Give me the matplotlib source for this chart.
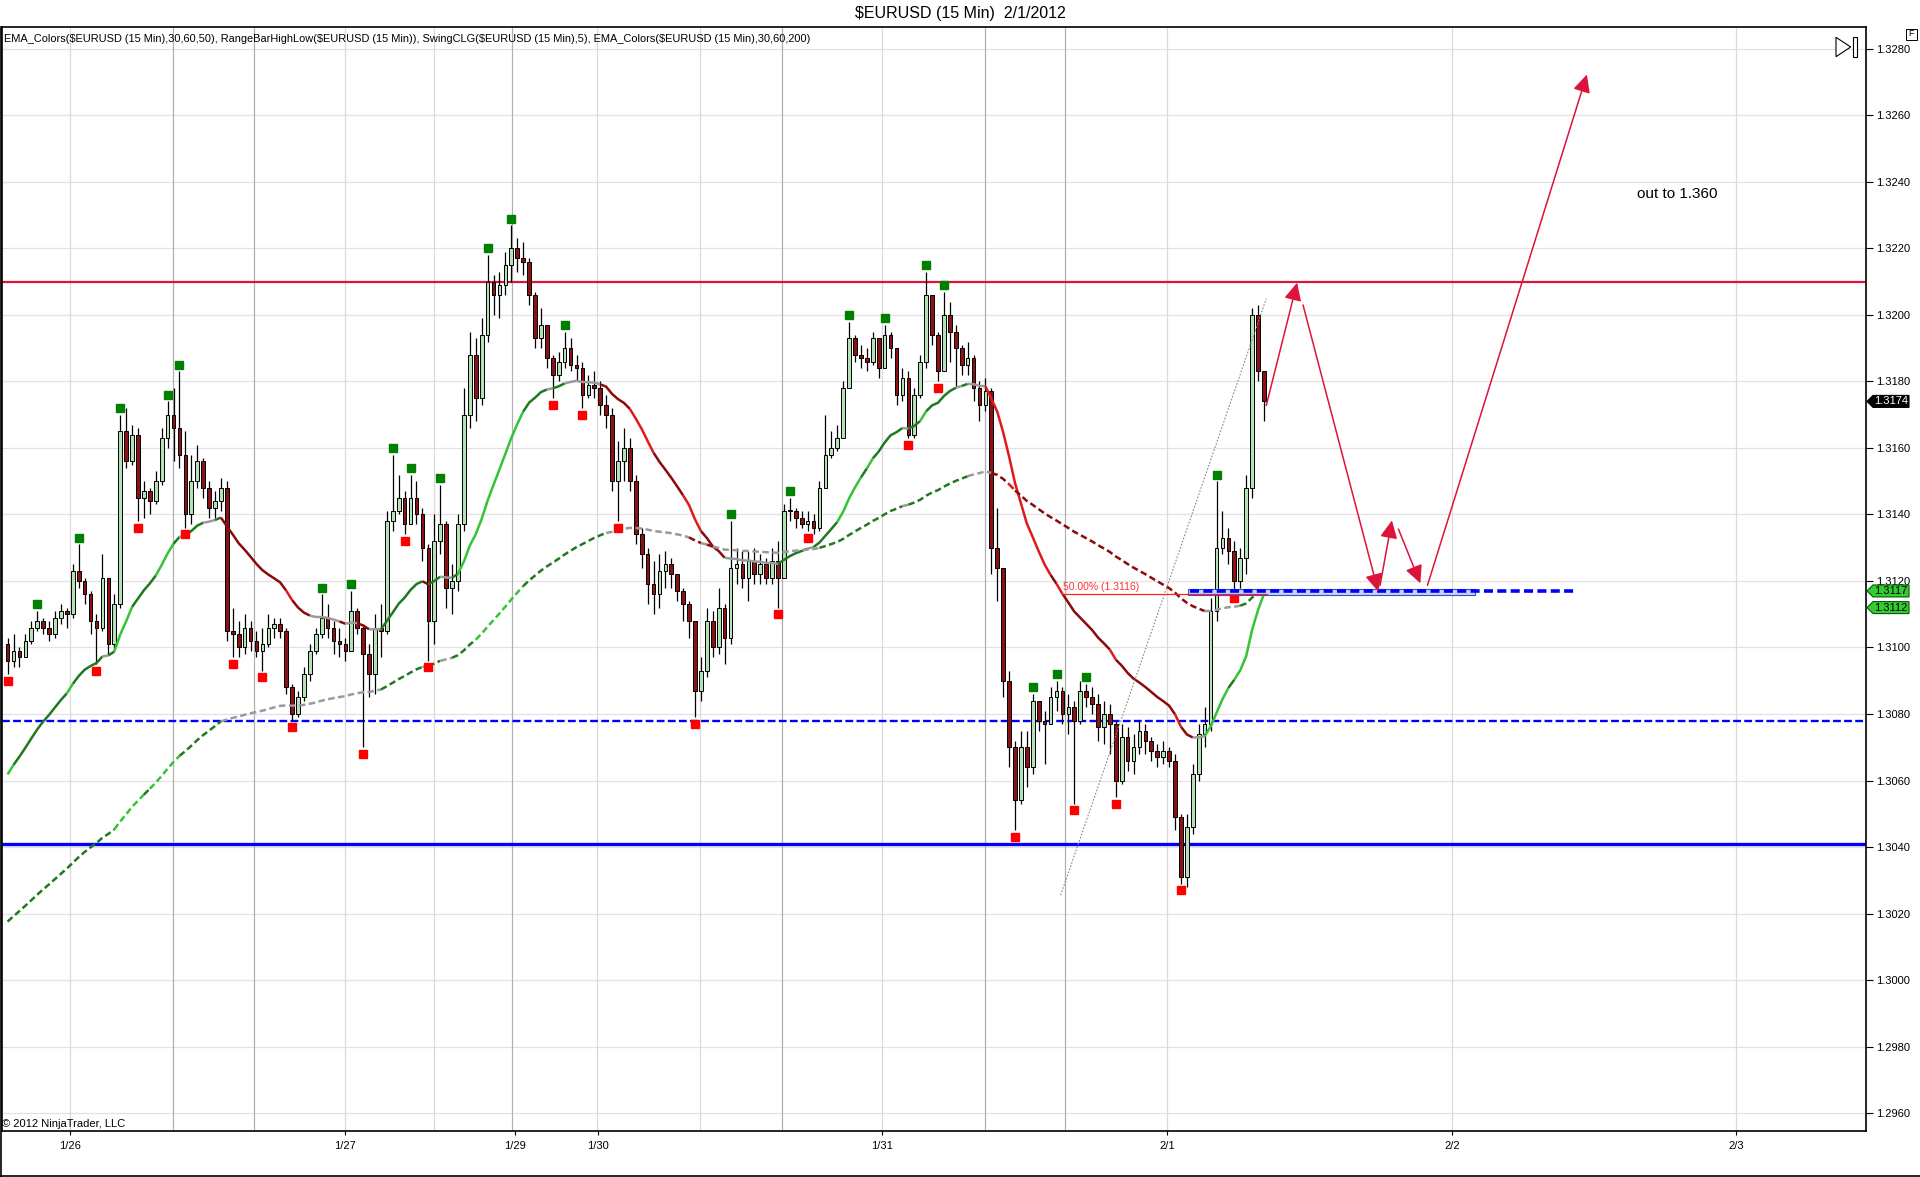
import numpy as np
import matplotlib
matplotlib.use("Agg")
import matplotlib.pyplot as plt
from matplotlib.patches import Rectangle, Polygon
from matplotlib.lines import Line2D

plt.rcParams['font.family'] = ['Liberation Sans', 'DejaVu Sans']

# prices are stored as pips above 1.3000 (one bar = 30 minutes here)
BASE = 1.3000
first_open = 101
close_pips = [
    96, 99, 97, 102, 106, 108, 106, 104, 109, 111,
    110, 123, 120, 116, 108, 106, 121, 101, 113, 165,
    156, 164, 145, 147, 144, 150, 163, 170, 166, 158,
    140, 150, 156, 148, 142, 144, 148, 105, 104, 100,
    106, 102, 99, 101, 106, 107, 105, 88, 80, 85,
    92, 99, 104, 109, 106, 102, 101, 99, 111, 106,
    98, 92, 106, 105, 138, 141, 145, 137, 145, 140,
    130, 108, 132, 137, 118, 120, 137, 170, 188, 175,
    194, 210, 206, 209, 215, 220, 217, 216, 206, 193,
    197, 187, 182, 186, 190, 185, 184, 176, 179, 178,
    173, 170, 150, 156, 160, 150, 134, 128, 119, 116,
    123, 125, 122, 117, 113, 108, 87, 93, 108, 100,
    112, 103, 124, 125, 121, 126, 122, 125, 121, 126,
    121, 141, 141, 139, 137, 138, 136, 148, 158, 160,
    163, 178, 193, 188, 187, 186, 193, 184, 194, 190,
    176, 181, 164, 176, 186, 206, 194, 183, 200, 195,
    190, 185, 187, 178, 173, 177, 130, 124, 90, 70,
    54, 70, 64, 84, 78, 77, 85, 87, 80, 82,
    78, 87, 85, 83, 76, 80, 77, 60, 73, 66,
    70, 75, 72, 69, 67, 69, 66, 49, 31, 46,
    62, 74, 77, 111, 130, 133, 129, 120, 127, 148,
    200, 183, 174,
]
high_pips = [
    103, 104, 100, 104, 108, 111, 109, 108, 111, 113,
    112, 125, 131, 121, 117, 110, 128, 121, 116, 170,
    172, 167, 166, 150, 148, 153, 166, 174, 178, 183,
    165, 158, 161, 157, 150, 147, 151, 150, 112, 108,
    110, 108, 105, 106, 110, 109, 109, 106, 89, 87,
    94, 101, 106, 116, 113, 108, 106, 103, 117, 112,
    107, 101, 110, 113, 141, 158, 152, 147, 152, 150,
    142, 131, 140, 149, 138, 125, 140, 178, 195, 193,
    199, 218, 212, 213, 219, 227, 223, 222, 217, 207,
    202, 197, 188, 189, 195, 193, 188, 186, 182, 183,
    180, 176, 172, 162, 166, 163, 152, 136, 130, 126,
    128, 129, 127, 121, 118, 114, 108, 97, 112, 111,
    118, 113, 138, 130, 129, 129, 130, 128, 127, 130,
    132, 143, 145, 142, 141, 141, 140, 150, 170, 165,
    167, 180, 198, 194, 191, 190, 195, 193, 197, 195,
    190, 184, 183, 178, 188, 213, 205, 195, 207, 204,
    197, 191, 192, 188, 180, 181, 178, 142, 124, 93,
    72, 75, 75, 86, 84, 81, 88, 90, 88, 86,
    84, 90, 89, 88, 86, 84, 83, 78, 77, 76,
    74, 78, 77, 73, 71, 72, 70, 68, 50, 50,
    65, 77, 82, 115, 150, 141, 136, 132, 130, 152,
    202, 203, 183,
]
low_pips = [
    92, 94, 94, 97, 101, 105, 104, 102, 103, 107,
    106, 109, 118, 113, 104, 95, 105, 98, 99, 112,
    154, 155, 138, 139, 140, 143, 149, 160, 156, 154,
    136, 137, 148, 145, 139, 139, 141, 102, 97, 97,
    98, 99, 97, 93, 100, 103, 103, 86, 78, 79,
    84, 90, 98, 103, 103, 98, 97, 96, 99, 104,
    70, 85, 86, 97, 104, 135, 140, 134, 137, 137,
    126, 96, 101, 128, 112, 110, 117, 135, 166, 168,
    173, 192, 200, 199, 206, 210, 213, 212, 203, 190,
    190, 184, 175, 180, 184, 183, 180, 172, 175, 175,
    170, 166, 147, 138, 150, 147, 131, 124, 113, 110,
    112, 118, 118, 114, 108, 103, 79, 84, 91, 97,
    98, 95, 101, 119, 118, 114, 119, 119, 119, 119,
    112, 121, 138, 136, 136, 135, 134, 135, 148, 157,
    159, 163, 178, 186, 184, 183, 185, 181, 184, 187,
    173, 174, 163, 163, 175, 184, 191, 180, 183, 186,
    178, 182, 182, 174, 168, 171, 122, 114, 85, 64,
    45, 53, 58, 62, 75, 65, 77, 81, 77, 74,
    53, 77, 82, 80, 72, 71, 68, 55, 59, 63,
    62, 68, 68, 66, 64, 65, 64, 45, 29, 28,
    44, 60, 70, 75, 108, 128, 125, 117, 118, 122,
    145, 180, 168,
]

swing_high_bars = [5, 12, 19, 27, 29, 53, 58, 65, 68, 73, 81, 85, 94,
                   122, 132, 142, 148, 155, 158, 173, 177, 182, 204]
swing_low_bars = [0, 15, 22, 30, 38, 43, 48, 60, 67, 71, 92, 97, 103,
                  116, 130, 135, 152, 157, 170, 180, 187, 198, 207]

date_labels = ['1/26', '1/27', '1/29', '1/30', '1/31', '2/1', '2/2', '2/3']
date_bars = [10.5, 57.0, 85.7, 99.6, 147.5, 195.7, 243.8, 291.7]
session_dark = [27.9, 41.5, 85.1, 130.6, 164.9, 178.5]
session_light = [10.5, 57.0, 71.9, 99.4, 116.9, 147.5, 195.7, 243.8, 291.7]

resistance = 1.3210
support_dashed = 1.3078
support_solid = 1.3041
target_level = 1.3117
target_span = (199.6, 264.9)
zone_span = (199.2, 247.7)
zone_prices = (1.31157, 1.31176)
fib_level = 1.3116
fib_span = (177.9, 212.6)
fib_text = '50.00% (1.3116)'
trend_pts = [(177.7, 1.30255), (212.4, 1.32049)]
forecast_arrows = [
    ((212.4, 1.31728), (217.6, 1.32097)),
    ((218.6, 1.32030), (231.3, 1.31168)),
    ((231.6, 1.31187), (233.6, 1.31382)),
    ((234.7, 1.31356), (238.4, 1.31193)),
    ((239.6, 1.31187), (266.5, 1.32723)),
]
note_pos = (281.8, 1.32365)
note_text = 'out to 1.360'
ema_fast_seed, ema_slow_seed = 1.3059, 1.3016
ema_fast_period, ema_slow_period = 25, 100
price_tags = [(1.3174, 'black', 'black', 'white'),
              (1.3117, '#33cc33', '#0a5a0a', 'black'),
              (1.3112, '#33cc33', '#0a5a0a', 'black')]

W_PX, H_PX = 1920, 1177

c = BASE + np.array(close_pips) / 1e4
o = np.r_[BASE + first_open / 1e4, c[:-1]]
h = np.maximum(BASE + np.array(high_pips) / 1e4, np.maximum(o, c))
l = np.minimum(BASE + np.array(low_pips) / 1e4, np.minimum(o, c))
x = np.arange(len(c))


def ema(values, period, seed):
    a = 2.0 / (period + 1)
    out, prev = [], seed
    for v in values:
        prev = prev + a * (v - prev)
        out.append(prev)
    return np.array(out)


def slope_colors(ys, gray_th, bright_th):
    s = np.diff(ys) * 1e4
    cols = []
    for v in s:
        if v >= bright_th:
            cols.append('#35c435')
        elif v >= gray_th:
            cols.append('#1f7a1f')
        elif v > -gray_th:
            cols.append('#9a9a9a')
        elif v > -bright_th:
            cols.append('#8b0a0a')
        else:
            cols.append('#e01a1a')
    return cols


def draw_ema(ax, ys, gray_th, bright_th, **kw):
    cols = slope_colors(ys, gray_th, bright_th)
    k = 0
    while k < len(cols):
        j = k
        while j + 1 < len(cols) and cols[j + 1] == cols[k]:
            j += 1
        ax.plot(x[k:j + 2], ys[k:j + 2], color=cols[k], solid_capstyle='butt',
                dash_capstyle='butt', zorder=5, **kw)
        k = j + 1


fig = plt.figure(figsize=(W_PX / 100, H_PX / 100), dpi=100)
left, right, top, bottom = 1.5, 1866, 27.3, 1131
ax = fig.add_axes([left / W_PX, 1 - bottom / H_PX, (right - left) / W_PX, (bottom - top) / H_PX])
ax.set_xlim(-1.03, 313.6)
ax.set_ylim(1.29546, 1.32865)

# grid
ax.set_yticks(np.arange(1.2960, 1.32801, 0.002))
ax.yaxis.set_major_formatter(matplotlib.ticker.FormatStrFormatter('%.4f'))
for yv in np.arange(1.2960, 1.32801, 0.002):
    ax.axhline(yv, color='#e2e2e2', lw=0.9, zorder=0.5)
for xv in session_light:
    ax.axvline(xv, color='#dadada', lw=0.9, zorder=0.5)
for xv in session_dark:
    ax.axvline(xv, color='#b0b0b0', lw=0.9, zorder=0.5)

# horizontal levels
ax.axhline(resistance, color='#dc143c', lw=1.6, zorder=2)
ax.axhline(support_dashed, color='#0000ff', lw=1.7, dashes=(3.3, 1.4), zorder=2)
ax.axhline(support_solid, color='#0000ff', lw=2.4, zorder=2)

# candles
up = c >= o
ax.vlines(x, l, h, color='black', lw=0.9, zorder=3)
ax.bar(x[up], np.maximum((c - o)[up], 0.00003), bottom=o[up], width=0.62,
       color='#b5e2b5', edgecolor='black', linewidth=0.7, zorder=4)
ax.bar(x[~up], (c - o)[~up], bottom=o[~up], width=0.62,
       color='#8b1212', edgecolor='black', linewidth=0.7, zorder=4)

# moving averages
ema_fast = ema(c, ema_fast_period, ema_fast_seed)
ema_slow = ema(c, ema_slow_period, ema_slow_seed)
draw_ema(ax, ema_fast, 0.6, 2.8, lw=1.8)
draw_ema(ax, ema_slow, 0.55, 1.8, lw=1.8, dashes=(2.6, 1.4))

# swing points
ax.plot(swing_high_bars, h[swing_high_bars] + 0.0002, 's', color='#008000',
        ms=5.5, zorder=6)
ax.plot(swing_low_bars, l[swing_low_bars] - 0.0002, 's', color='#ff0000',
        ms=5.5, zorder=6)

# drawings
ax.add_patch(Rectangle((zone_span[0], zone_prices[0]), zone_span[1] - zone_span[0],
                       zone_prices[1] - zone_prices[0], facecolor='#c8d4f4',
                       edgecolor='#3050d0', lw=0.8, zorder=6))
ax.plot(target_span, [target_level, target_level], color='#0000ff', lw=2.6,
        dashes=(2.5, 1.2), zorder=7)
ax.plot(fib_span, [fib_level, fib_level], color='#ff2020', lw=0.9, zorder=6)
ax.text(fib_span[0] + 0.2, fib_level + 0.00023, fib_text, color='#ff3030',
        fontsize=7.5, va='center', ha='left', zorder=7)
ax.plot([p[0] for p in trend_pts], [p[1] for p in trend_pts], color='#888888',
        lw=0.8, linestyle=(0, (1.5, 1.5)), zorder=6)
for start, end in forecast_arrows:
    ax.annotate('', xy=end, xytext=start,
                arrowprops=dict(arrowstyle='-|>,head_length=0.45,head_width=0.22',
                                color='#dc143c', lw=1.1, shrinkA=0, shrinkB=0,
                                mutation_scale=24), zorder=8)
ax.text(note_pos[0], note_pos[1], note_text, fontsize=11, ha='center', va='center')

# axes styling
ax.yaxis.tick_right()
ax.tick_params(axis='y', length=5, labelsize=8, pad=2, width=0.8)
ax.set_xticks(date_bars)
ax.set_xticklabels(date_labels)
ax.tick_params(axis='x', length=3, labelsize=8, pad=4, width=0.8)
for sp in ax.spines.values():
    sp.set_color('black')
    sp.set_linewidth(1.2)
fig.text(2.5 / W_PX, 1 - 1124 / H_PX, '\u00a9 2012 NinjaTrader, LLC',
         fontsize=8, ha='left', va='center')

# price tags on the right axis
fig.canvas.draw()
x0 = right
for price, face, edge, tc in price_tags:
    yp = ax.transData.transform((0, price))[1]
    pts = [(x0 + 1, yp), (x0 + 7, yp + 6), (x0 + 43, yp + 6),
           (x0 + 43, yp - 6), (x0 + 7, yp - 6)]
    pts = [(px / W_PX, py / H_PX) for px, py in pts]
    fig.add_artist(Polygon(pts, closed=True, transform=fig.transFigure,
                           facecolor=face, edgecolor=edge, lw=0.8, zorder=5))
    fig.text((x0 + 25) / W_PX, yp / H_PX, '%.4f' % price, color=tc, fontsize=8,
             ha='center', va='center', zorder=6)

# toolbar glyphs at the top right
tri = [(1836, 37.3), (1836, 56.7), (1850.7, 47)]
fig.add_artist(Polygon([(px / W_PX, 1 - py / H_PX) for px, py in tri], closed=True,
                       transform=fig.transFigure, facecolor='white', edgecolor='black', lw=0.8))
fig.add_artist(Rectangle((1853.3 / W_PX, 1 - 57.3 / H_PX), 3.4 / W_PX, 20 / H_PX,
                         transform=fig.transFigure, facecolor='white', edgecolor='black', lw=0.8))
fig.add_artist(Rectangle((1905.5 / W_PX, 1 - 39.5 / H_PX), 11.5 / W_PX, 11 / H_PX,
                         transform=fig.transFigure, facecolor='white', edgecolor='black', lw=0.7))
fig.text(1911.3 / W_PX, 1 - 34 / H_PX, 'F', fontsize=6.5, ha='center', va='center',
         zorder=6)

# frame of the window
fig.add_artist(Line2D([0.0003, 0.0003], [0, 1 - top / H_PX], transform=fig.transFigure,
                      color='black', lw=1.2))
fig.add_artist(Line2D([0, 1], [0.0006, 0.0006], transform=fig.transFigure,
                      color='black', lw=1.2))

fig.text(0.5, 1 - 13.5 / H_PX, '$EURUSD (15 Min)  2/1/2012', fontsize=11.5,
         ha='center', va='center', parse_math=False)
fig.text(3.7 / W_PX, 1 - 39 / H_PX,
         'EMA_Colors($EURUSD (15 Min),30,60,50), RangeBarHighLow($EURUSD (15 Min)), '
         'SwingCLG($EURUSD (15 Min),5), EMA_Colors($EURUSD (15 Min),30,60,200)',
         fontsize=7.9, ha='left', va='center', parse_math=False)

fig.savefig('out.png', dpi=100, facecolor='white')
